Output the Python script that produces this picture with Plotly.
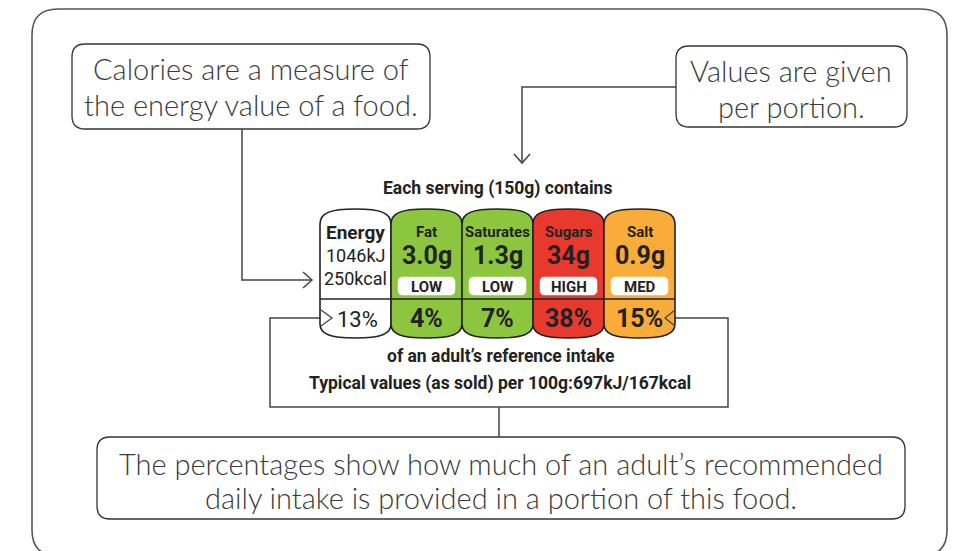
import plotly.graph_objects as go

W, H = 963, 551
OFF = 8  # the page body margin; data units map 1:1 to screenshot pixels

serving_g = 150
nutrients = ["Energy", "Fat", "Saturates", "Sugars", "Salt"]
energy_kj = 1046
energy_kcal = 250
amounts = ["3.0g", "1.3g", "34g", "0.9g"]          # Fat, Saturates, Sugars, Salt
levels = ["LOW", "LOW", "HIGH", "MED"]
percents = [13, 4, 7, 38, 15]
per100_kj = 697
per100_kcal = 167

callout_calories = ["Calories are a measure of", "the energy value of a food."]
callout_portion = ["Values are given", "per portion."]
callout_percent = ["The percentages show how much of an adult’s recommended",
                   "daily intake is provided in a portion of this food."]
ri_line = "of an adult’s reference intake"

level_colors = {"LOW": "#8cc63f", "MED": "#f9ac3a", "HIGH": "#e8392e"}

CALLOUT_FONT = "Lato"
LABEL_FONT = "Roboto"
INK = "#222222"
GREY = "#3a3a3a"
CSIZE = 29

shapes = []
annotations = []


def rrect(x0, y0, x1, y1, r):
    return (f"M {x0+r},{y0} L {x1-r},{y0} Q {x1},{y0} {x1},{y0+r} "
            f"L {x1},{y1-r} Q {x1},{y1} {x1-r},{y1} L {x0+r},{y1} "
            f"Q {x0},{y1} {x0},{y1-r} L {x0},{y0+r} Q {x0},{y0} {x0+r},{y0} Z")


def add_path(path, color="#444444", width=1.5, fill=None, layer="above"):
    d = dict(type="path", path=path, xref="x", yref="y",
             line=dict(color=color, width=width), layer=layer)
    if fill:
        d["fillcolor"] = fill
    shapes.append(d)


def text(x, y, s, size, font=LABEL_FONT, color=INK, bold=False, anchor="center", weight=None):
    f = dict(family=font, size=size, color=color)
    if weight is not None:
        f["weight"] = weight
    annotations.append(dict(
        x=x, y=y, xref="x", yref="y", text=(f"<b>{s}</b>" if bold else s),
        showarrow=False, xanchor=anchor, yanchor="middle", font=f))


def callout_text(x, y, s):
    text(x, y, s, CSIZE, CALLOUT_FONT, GREY, weight=300)


# ---- outer frame ----
add_path(rrect(32, 9, 947, 556, 26), color="#555555", width=1.6)

# ---- callout boxes ----
add_path(rrect(72, 44, 430, 129, 13), color="#333333", width=1.3)
callout_text(251, 68, callout_calories[0])
callout_text(251, 104, callout_calories[1])

add_path(rrect(676, 46, 907, 127, 13), color="#333333", width=1.3)
callout_text(791, 70, callout_portion[0])
callout_text(791, 106, callout_portion[1])

add_path(rrect(97, 437, 905, 519, 13), color="#333333", width=1.3)
callout_text(501, 463, callout_percent[0])
callout_text(501, 497, callout_percent[1])

# ---- connectors ----
add_path("M 242,129 L 242,280 L 311,280")
add_path("M 303,272 L 312,280 L 303,288")
add_path("M 676,87 L 522,87 L 522,162")
add_path("M 514,154 L 522,163 L 530,154")
add_path("M 332,318 L 270,318 L 270,407 L 728,407 L 728,318 L 666,318")
add_path("M 499,407 L 499,437")

# ---- traffic-light label ----
PX0, PW = 320, 71
YT, YST, YSB, YB, YDIV = 209, 224, 324, 338, 299


def panel_path(x0, x1):
    xm = (x0 + x1) / 2
    return (f"M {x0},{YST} C {x0},{YT+4} {x0+10},{YT} {xm},{YT} "
            f"C {x1-10},{YT} {x1},{YT+4} {x1},{YST} L {x1},{YSB} "
            f"C {x1},{YB-4} {x1-10},{YB} {xm},{YB} "
            f"C {x0+10},{YB} {x0},{YB-4} {x0},{YSB} Z")


for i, name in enumerate(nutrients):
    x0 = PX0 + i * PW
    x1 = x0 + PW
    xm = (x0 + x1) / 2
    fill = "#ffffff" if i == 0 else level_colors[levels[i - 1]]
    add_path(panel_path(x0, x1), color=INK, width=1.6, fill=fill)
    if i == 0:
        text(xm, 232, name, 19, bold=True)
        text(xm, 255, f"{energy_kj}kJ", 18)
        text(xm, 278, f"{energy_kcal}kcal", 18)
        text(xm + 2, 319, f"{percents[i]}%", 22)
    else:
        text(xm, 232, name, 15, bold=True)
        text(xm, 255, amounts[i - 1], 25, bold=True)
        add_path(rrect(x0 + 7, 277, x1 - 7, 295, 5), color="#ffffff", width=0.5, fill="#ffffff")
        text(xm, 286.5, levels[i - 1], 15, bold=True)
        text(xm, 318, f"{percents[i]}%", 25, bold=True)

# divider line across the label
add_path(f"M {PX0},{YDIV} L {PX0 + PW*len(nutrients)},{YDIV}", color=INK, width=1.6)

# percentage arrows (drawn over label)
add_path("M 321,310 L 332,318 L 321,326", color="#444444", width=1.3)
add_path("M 675,310 L 665,318 L 675,326", color="#444444", width=1.3)

# ---- label texts ----
text(497, 188, f"Each serving ({serving_g}g) contains", 17.5, bold=True)
text(500, 356, ri_line, 17.5, bold=True)
text(500, 383, f"Typical values (as sold) per 100g:{per100_kj}kJ/{per100_kcal}kcal", 17.5, bold=True)

fig = go.Figure(go.Scatter(x=[], y=[], hoverinfo="skip"))
fig.update_layout(
    width=W, height=H,
    margin=dict(l=0, r=0, t=0, b=0),
    paper_bgcolor="#ffffff", plot_bgcolor="#ffffff",
    xaxis=dict(range=[OFF, W + OFF], visible=False, fixedrange=True),
    yaxis=dict(range=[H + OFF, OFF], visible=False, fixedrange=True),
    shapes=shapes, annotations=annotations, showlegend=False,
)
fig.write_html("out.html", config={"displayModeBar": False})
